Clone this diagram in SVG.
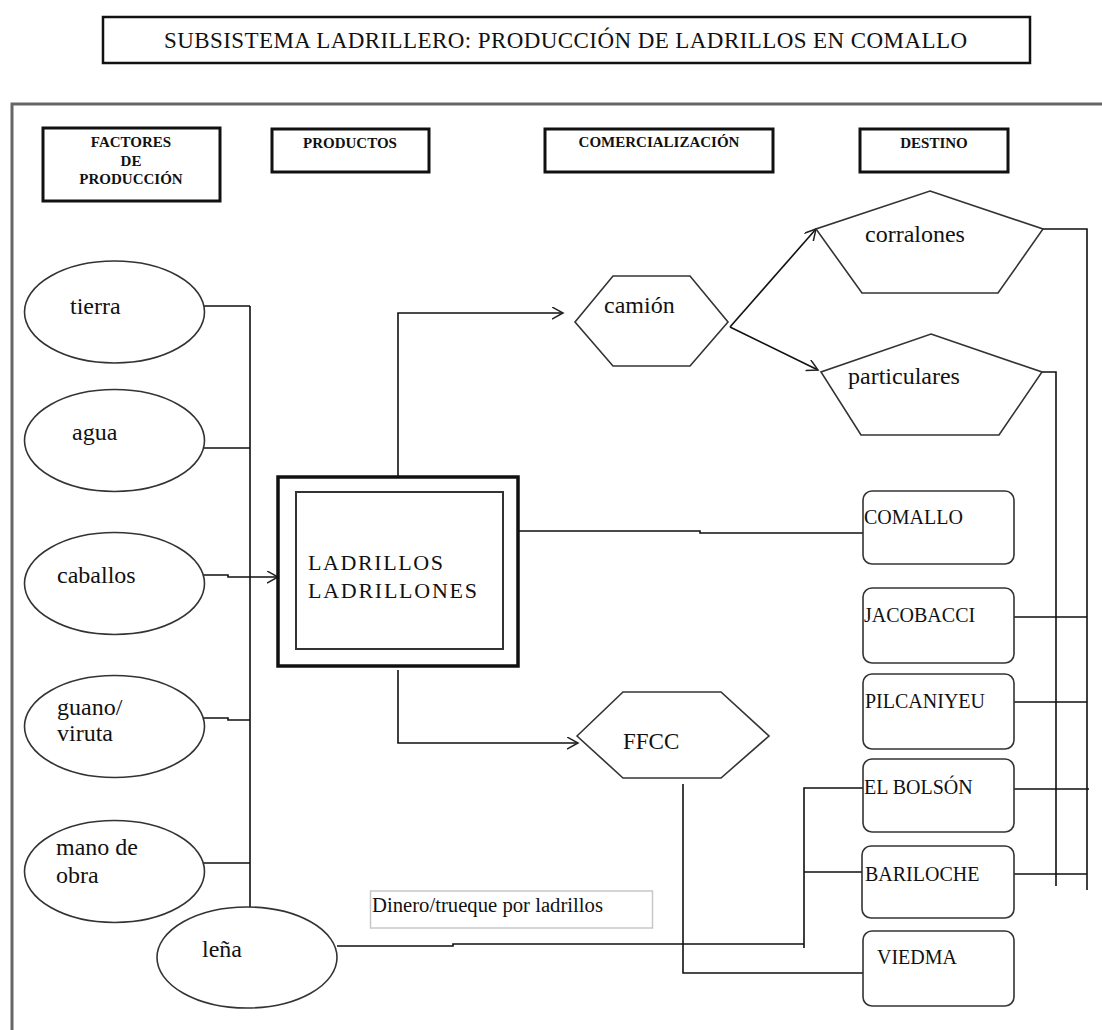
<svg xmlns="http://www.w3.org/2000/svg" width="1102" height="1030" viewBox="0 0 1102 1030">
<style>
text{fill:#111;font-family:'Liberation Serif','Times New Roman',serif}
.h{font-size:15px;font-weight:bold;text-anchor:middle}
.e{font-size:24px}
.d{font-size:20px}
.hb{fill:#fff;stroke:#111;stroke-width:3}
.sh{fill:#fff;stroke:#333;stroke-width:1.6}
.ln{fill:none;stroke:#111;stroke-width:1.6}
</style>
<defs>
<marker id="ar" markerUnits="userSpaceOnUse" markerWidth="14" markerHeight="14" refX="11" refY="6" orient="auto">
<path d="M0,0 L11,6 L0,12" fill="none" stroke="#222" stroke-width="1.5"/>
</marker>
</defs>
<rect width="1102" height="1030" fill="#fff"/>

<g id="title">
<rect x="103" y="17" width="927" height="46" fill="#fff" stroke="#111" stroke-width="2.5"/>
<text x="164" y="48" font-size="23" textLength="803" lengthAdjust="spacing">SUBSISTEMA LADRILLERO: PRODUCCIÓN DE LADRILLOS EN COMALLO</text>
</g>

<g id="frame">
<path d="M12,1030 V104 H1102" fill="none" stroke="#666" stroke-width="3"/>
</g>

<g id="h-factores">
<rect class="hb" x="43" y="128" width="177" height="73"/>
<text class="h" x="131" y="147">FACTORES</text>
<text class="h" x="131" y="166">DE</text>
<text class="h" x="131" y="184">PRODUCCIÓN</text>
</g>
<g id="h-productos">
<rect class="hb" x="272" y="129" width="157" height="43"/>
<text class="h" x="350" y="148">PRODUCTOS</text>
</g>
<g id="h-comercializacion">
<rect class="hb" x="545" y="129" width="228" height="43"/>
<text class="h" x="659" y="147">COMERCIALIZACIÓN</text>
</g>
<g id="h-destino">
<rect class="hb" x="860" y="129" width="148" height="43"/>
<text class="h" x="934" y="148">DESTINO</text>
</g>

<g id="connectors">
<path class="ln" d="M204,306 H250 M204,448 H250 M204,718 H228 V720 H250 M204,863 H250 M250,306 V907"/>
<path class="ln" d="M204,575 H228 V577 H278" marker-end="url(#ar)"/>
<path class="ln" d="M398,477 V313 H563" marker-end="url(#ar)"/>
<path class="ln" d="M398,670 V743 H578" marker-end="url(#ar)"/>
<path class="ln" d="M730,327 L816,229" marker-end="url(#ar)"/>
<path class="ln" d="M730,327 L818,370" marker-end="url(#ar)"/>
<path class="ln" d="M518,531 H700 V533 H863"/>
<path class="ln" d="M1043,229 H1087 V890"/>
<path class="ln" d="M1042,372 H1056 V886"/>
<path class="ln" d="M1014,617 H1087 M1014,702 H1087 M1014,789 H1089 M1014,874 H1087"/>
<path class="ln" d="M337,946 H453 V944 H804"/>
<path class="ln" d="M804,948 V788 H865 M804,872 H865"/>
<path class="ln" d="M683,784 V973 H868"/>
</g>

<g id="n-tierra">
<ellipse class="sh" cx="114.5" cy="312" rx="90" ry="51"/>
<text class="e" x="70" y="314">tierra</text>
</g>
<g id="n-agua">
<ellipse class="sh" cx="114.5" cy="440.5" rx="90" ry="51"/>
<text class="e" x="72" y="440">agua</text>
</g>
<g id="n-caballos">
<ellipse class="sh" cx="114.5" cy="583.5" rx="90" ry="51"/>
<text class="e" x="57" y="583">caballos</text>
</g>
<g id="n-guano">
<ellipse class="sh" cx="114.5" cy="726.5" rx="90" ry="51"/>
<text class="e" x="57" y="715">guano/</text>
<text class="e" x="57" y="741">viruta</text>
</g>
<g id="n-mano">
<ellipse class="sh" cx="114.5" cy="871.5" rx="90" ry="51"/>
<text class="e" x="56" y="855">mano de</text>
<text class="e" x="56" y="883">obra</text>
</g>
<g id="n-lena">
<ellipse class="sh" cx="247" cy="957.5" rx="90" ry="50.5"/>
<text class="e" x="202" y="957">leña</text>
</g>

<g id="n-ladrillos">
<rect x="278" y="477" width="240" height="189" fill="#fff" stroke="#111" stroke-width="3.5"/>
<rect x="296" y="492" width="207" height="157" fill="none" stroke="#333" stroke-width="2"/>
<text x="308" y="570" font-size="22" textLength="135" lengthAdjust="spacing">LADRILLOS</text>
<text x="308" y="598" font-size="22" textLength="169" lengthAdjust="spacing">LADRILLONES</text>
</g>

<g id="n-camion">
<polygon class="sh" points="575,322 613,276 690,276 728,322 690,366 613,366"/>
<text class="e" x="604" y="313">camión</text>
</g>
<g id="n-ffcc">
<polygon class="sh" points="577,736 623,692 721,692 769,736 721,778 623,778"/>
<text x="623" y="749" font-size="23">FFCC</text>
</g>
<g id="n-corralones">
<polygon class="sh" points="930,191 1043,229 998,293 862,293 816,229"/>
<text class="e" x="865" y="242">corralones</text>
</g>
<g id="n-particulares">
<polygon class="sh" points="931,334 1042,372 999,435 861,435 821,372"/>
<text class="e" x="848" y="384">particulares</text>
</g>

<g id="n-dinero">
<rect x="370.5" y="891" width="282" height="37" fill="none" stroke="#c8c8c8" stroke-width="1.5"/>
<text x="372" y="912" font-size="20" textLength="231" lengthAdjust="spacingAndGlyphs">Dinero/trueque por ladrillos</text>
</g>

<g id="n-comallo">
<rect class="sh" x="863" y="491" width="151" height="73" rx="9"/>
<text class="d" x="864" y="524">COMALLO</text>
</g>
<g id="n-jacobacci">
<rect class="sh" x="863" y="588" width="151" height="75" rx="9"/>
<text class="d" x="864" y="622">JACOBACCI</text>
</g>
<g id="n-pilcaniyeu">
<rect class="sh" x="863" y="674" width="151" height="75" rx="9"/>
<text class="d" x="865" y="708">PILCANIYEU</text>
</g>
<g id="n-elbolson">
<rect class="sh" x="863" y="759" width="151" height="73" rx="9"/>
<text class="d" x="864" y="794">EL BOLSÓN</text>
</g>
<g id="n-bariloche">
<rect class="sh" x="862" y="846" width="152" height="72" rx="9"/>
<text class="d" x="865" y="881">BARILOCHE</text>
</g>
<g id="n-viedma">
<rect class="sh" x="863" y="931" width="151" height="75" rx="9"/>
<text class="d" x="877" y="964">VIEDMA</text>
</g>
</svg>
